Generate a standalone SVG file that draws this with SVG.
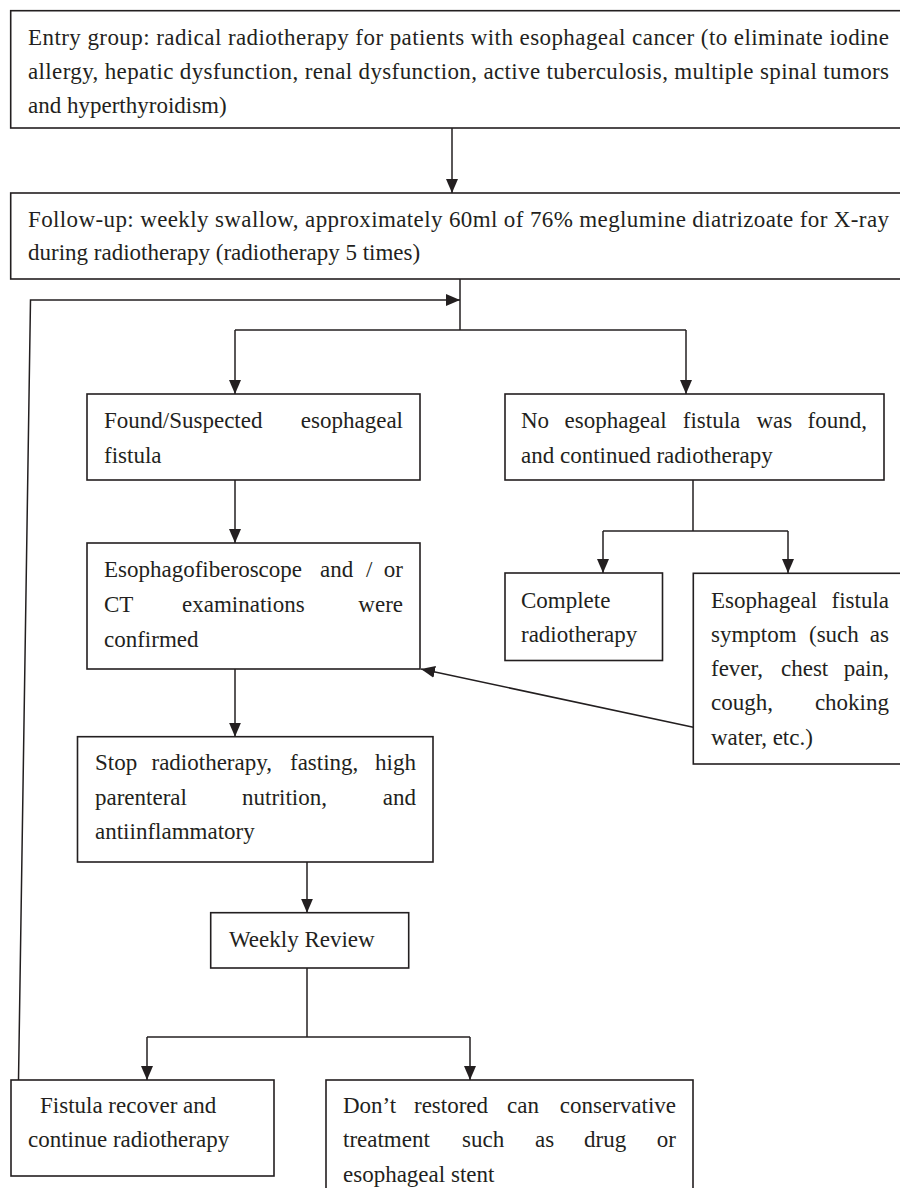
<svg xmlns="http://www.w3.org/2000/svg" width="900" height="1188" viewBox="0 0 900 1188">
<style>
.box{fill:#fff;stroke:#231f20;stroke-width:1.6}
.t{font-family:"Liberation Serif","Times New Roman",serif;font-size:23px;fill:#231f20}
.e{text-anchor:end}
.c{fill:none;stroke:#231f20;stroke-width:1.5}
</style>
<defs>
<marker id="ah" markerUnits="userSpaceOnUse" markerWidth="15" markerHeight="13" refX="14" refY="6" orient="auto">
<path d="M0,0 L14,6 L0,12 z" fill="#231f20"/>
</marker>
</defs>
<rect width="900" height="1188" fill="#fff"/>
<g id="n1">
<rect class="box" x="10.7" y="10.7" width="900" height="117.3"/>
<text class="t" x="28" y="45" textLength="861" lengthAdjust="spacing">Entry group: radical radiotherapy for patients with esophageal cancer (to eliminate iodine</text>
<text class="t" x="28" y="79" textLength="861" lengthAdjust="spacing">allergy, hepatic dysfunction, renal dysfunction, active tuberculosis, multiple spinal tumors</text>
<text class="t" x="28" y="113">and hyperthyroidism)</text>
</g>
<g id="n2">
<rect class="box" x="10.7" y="193" width="900" height="86"/>
<text class="t" x="28" y="226.7" textLength="861" lengthAdjust="spacing">Follow-up: weekly swallow, approximately 60ml of 76% meglumine diatrizoate for X-ray</text>
<text class="t" x="28" y="260">during radiotherapy (radiotherapy 5 times)</text>
</g>
<g id="n3">
<rect class="box" x="87" y="394" width="333" height="86"/>
<text class="t" x="104" y="428.3">Found/Suspected</text>
<text class="t e" x="403" y="428.3">esophageal</text>
<text class="t" x="104" y="462.5">fistula</text>
</g>
<g id="n4">
<rect class="box" x="505" y="394" width="379" height="86"/>
<text class="t" y="428.3"><tspan x="521">No</tspan><tspan x="564.5">esophageal</tspan><tspan x="682.8">fistula</tspan><tspan x="756.5">was</tspan></text>
<text class="t e" x="867" y="428.3">found,</text>
<text class="t" x="521" y="462.5">and continued radiotherapy</text>
</g>
<g id="n5">
<rect class="box" x="87" y="543" width="333" height="126"/>
<text class="t" y="576.7"><tspan x="104">Esophagofiberoscope</tspan><tspan x="320">and</tspan><tspan x="366">/</tspan></text>
<text class="t e" x="403" y="576.7">or</text>
<text class="t" y="611.7"><tspan x="104">CT</tspan><tspan x="182">examinations</tspan></text>
<text class="t e" x="403" y="611.7">were</text>
<text class="t" x="104" y="646.7">confirmed</text>
</g>
<g id="n6">
<rect class="box" x="505" y="573" width="157.5" height="87.5"/>
<text class="t" x="521" y="608.3">Complete</text>
<text class="t" x="521" y="641.7">radiotherapy</text>
</g>
<g id="n7">
<rect class="box" x="693.3" y="573.3" width="220" height="190.7"/>
<text class="t" x="711" y="608.3">Esophageal</text>
<text class="t e" x="889" y="608.3">fistula</text>
<text class="t" y="642"><tspan x="711">symptom</tspan><tspan x="809">(such</tspan></text>
<text class="t e" x="889" y="642">as</text>
<text class="t" y="676"><tspan x="711">fever,</tspan><tspan x="781">chest</tspan></text>
<text class="t e" x="889" y="676">pain,</text>
<text class="t" x="711" y="710">cough,</text>
<text class="t e" x="889" y="710">choking</text>
<text class="t" x="711" y="745">water, etc.)</text>
</g>
<g id="n8">
<rect class="box" x="77.5" y="736.7" width="355.5" height="125.3"/>
<text class="t" y="770"><tspan x="95">Stop</tspan><tspan x="151.5">radiotherapy,</tspan><tspan x="290">fasting,</tspan></text>
<text class="t e" x="416" y="770">high</text>
<text class="t" y="805"><tspan x="95">parenteral</tspan><tspan x="242">nutrition,</tspan></text>
<text class="t e" x="416" y="805">and</text>
<text class="t" x="95" y="838.5">antiinflammatory</text>
</g>
<g id="n9">
<rect class="box" x="210.7" y="912.7" width="198" height="55.3"/>
<text class="t" x="229" y="946.7">Weekly Review</text>
</g>
<g id="n10">
<rect class="box" x="11" y="1080" width="263" height="96"/>
<text class="t" x="40" y="1113">Fistula recover and</text>
<text class="t" x="28" y="1147">continue radiotherapy</text>
</g>
<g id="n11">
<rect class="box" x="326" y="1080" width="367" height="130"/>
<text class="t" y="1113"><tspan x="343">Don’t</tspan><tspan x="414">restored</tspan><tspan x="507">can</tspan></text>
<text class="t e" x="676" y="1113">conservative</text>
<text class="t" y="1147"><tspan x="343">treatment</tspan><tspan x="462">such</tspan><tspan x="535">as</tspan><tspan x="584">drug</tspan></text>
<text class="t e" x="676" y="1147">or</text>
<text class="t" x="343" y="1182">esophageal stent</text>
</g>
<g id="connectors">
<path class="c" d="M452,128 V193" marker-end="url(#ah)"/>
<path class="c" d="M460,279 V330"/>
<path class="c" d="M18.5,1080 L30.5,300 H460" marker-end="url(#ah)"/>
<path class="c" d="M235,330 H686"/>
<path class="c" d="M235,330 V394" marker-end="url(#ah)"/>
<path class="c" d="M686,330 V394" marker-end="url(#ah)"/>
<path class="c" d="M235,480 V543" marker-end="url(#ah)"/>
<path class="c" d="M693,480 V531"/>
<path class="c" d="M603,531 H788"/>
<path class="c" d="M603,531 V573" marker-end="url(#ah)"/>
<path class="c" d="M788,531 V573" marker-end="url(#ah)"/>
<path class="c" d="M693.3,727.3 L421,669" marker-end="url(#ah)"/>
<path class="c" d="M235,669 V736.7" marker-end="url(#ah)"/>
<path class="c" d="M307,862 V912.7" marker-end="url(#ah)"/>
<path class="c" d="M307,968 V1037"/>
<path class="c" d="M147,1037 H470"/>
<path class="c" d="M147,1037 V1080" marker-end="url(#ah)"/>
<path class="c" d="M470,1037 V1080" marker-end="url(#ah)"/>
</g>
</svg>
